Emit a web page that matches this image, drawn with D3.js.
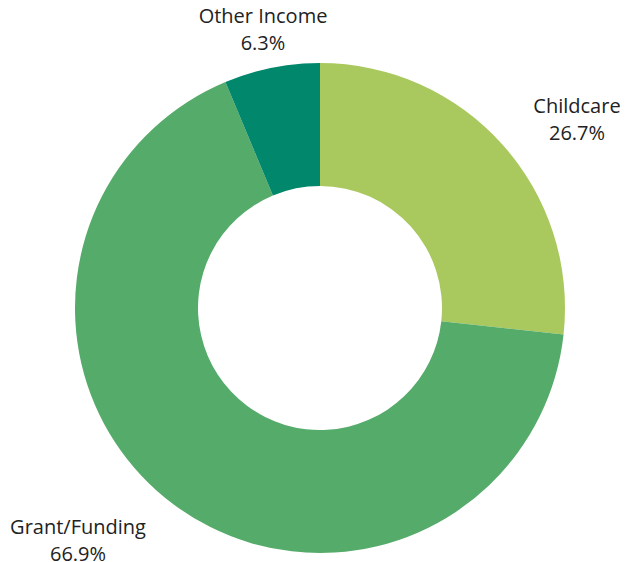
<!DOCTYPE html>
<html><head><meta charset="utf-8">
<script src="https://cdn.jsdelivr.net/npm/d3@7"></script>
<style>html,body{margin:0;padding:0;background:#fff;}svg{display:block;}</style>
</head><body>
<svg id="chart" width="641" height="562"></svg>
<script>
const categories = ["Childcare", "Grant/Funding", "Other Income"];
const values = [26.7, 66.9, 6.3];
const colors = ["#A9C95F", "#55AB6A", "#00876C"];
const labelText = ["26.7%", "66.9%", "6.3%"];

const svg = d3.select("#chart");
const cx = 320, cy = 308, outerR = 245, innerR = 122;
const g = svg.append("g").attr("transform", `translate(${cx},${cy})`);

const data = categories.map((c, i) => ({ name: c, value: values[i], color: colors[i], label: labelText[i] }));
const pie = d3.pie().value(d => d.value).sort(null);
const arc = d3.arc().innerRadius(innerR).outerRadius(outerR);
const arcs = pie(data);

g.selectAll("path.slice").data(arcs).join("path")
  .attr("class", "slice")
  .attr("d", arc)
  .attr("fill", d => d.data.color);

// label anchors (first-line baseline) relative to chart centre
const labelPos = { "Childcare": [257, -195], "Grant/Funding": [-242, 226], "Other Income": [-57, -285] };
arcs.forEach(a => {
  const [x, y] = labelPos[a.data.name];
  const t = g.append("text")
    .attr("x", x).attr("y", y)
    .attr("text-anchor", "middle")
    .attr("font-family", "'Open Sans', sans-serif")
    .attr("font-size", 20)
    .attr("fill", "#222");
  t.append("tspan").attr("x", x).attr("dy", 0).text(a.data.name);
  t.append("tspan").attr("x", x).attr("dy", 26.5).text(a.data.label);
});
</script>
</body></html>
